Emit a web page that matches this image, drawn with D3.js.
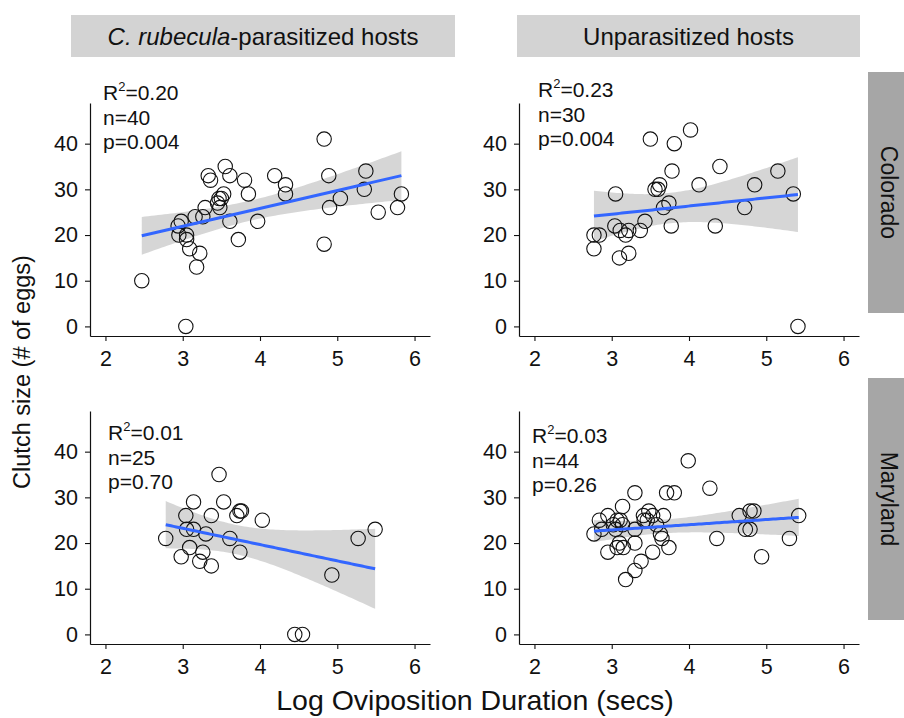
<!DOCTYPE html>
<html><head><meta charset="utf-8">
<script src="https://cdn.jsdelivr.net/npm/d3@7"></script>
<style>
body{margin:0;background:#fff}
text{font-family:"Liberation Sans",Arial,Helvetica,sans-serif;fill:#111}
</style>
</head><body>
<svg id="chart" width="904" height="718"></svg>
<script>
// ---------------- data ----------------
const colLabels = ["C. rubecula-parasitized hosts", "Unparasitized hosts"];
const rowLabels = ["Colorado", "Maryland"];
const xTicks = [2, 3, 4, 5, 6];
const yTicks = [0, 10, 20, 30, 40];

// Colorado, parasitized
const coParaX = [4.83,3.55,3.33,3.36,3.61,3.80,4.19,4.33,4.33,4.89,5.37,5.35,3.85,3.45,3.50,3.53,3.47,3.48,3.29,3.16,3.26,2.98,2.94,3.61,3.97,5.04,4.90,5.53,5.78,5.83,2.95,3.05,3.05,3.09,3.22,3.18,3.72,4.83,2.47,3.04];
const coParaY = [41,35,33,32,33,32,33,31,29,33,34,30,29,27,28,29,28,26,26,24,24,23,22,23,23,28,26,25,26,29,20,20,19,17,16,13,19,18,10,0];
// Colorado, unparasitized
const coUnpX = [4.02,3.50,3.81,3.78,4.40,5.15,4.85,4.13,3.56,3.62,3.05,5.35,3.74,3.67,4.72,3.43,3.04,3.77,4.34,3.11,3.22,3.37,3.18,2.77,2.84,2.77,3.22,3.10,5.41,3.60];
const coUnpY = [43,41,40,34,35,34,31,31,30,31,29,29,27,26,26,23,22,22,22,21,21,21,20,20,20,17,16,15,0,30];
// Maryland, parasitized
const mdParaX = [3.47,3.14,3.53,3.04,3.37,3.70,3.74,3.76,4.03,3.05,3.14,3.30,2.78,3.61,3.09,3.26,3.74,2.98,3.22,3.37,5.27,5.49,4.93,4.45,4.55];
const mdParaY = [35,29,29,26,26,26,27,27,25,23,23,22,21,21,19,18,18,17,16,15,21,23,13,0,0];
// Maryland, unparasitized
const mdUnpX = [3.99,4.27,3.30,3.71,3.81,3.14,2.84,2.95,3.07,3.11,3.05,2.87,2.77,3.41,3.46,3.53,3.67,3.30,3.58,3.63,3.65,3.30,3.74,3.53,2.95,3.07,3.15,3.10,3.38,3.30,3.18,4.36,4.65,4.79,4.84,4.73,4.79,5.30,5.42,4.94,3.14,3.42,3.02,3.48];
const mdUnpY = [38,32,31,31,31,28,25,26,25,25,23,23,22,26,25,26,26,23,24,22,21,20,19,18,18,19,19,20,16,14,12,21,26,27,27,23,23,21,26,17,24,25,24,27];

const r2Labels = ["0.20", "0.23", "0.01", "0.03"];
const nLabels  = ["40", "30", "25", "44"];
const pLabels  = ["0.004", "0.004", "0.70", "0.26"];

// ---------------- layout ----------------
const panelsData = [
  {row:0, col:0, xs:coParaX, ys:coParaY},
  {row:0, col:1, xs:coUnpX,  ys:coUnpY},
  {row:1, col:0, xs:mdParaX, ys:mdParaY},
  {row:1, col:1, xs:mdUnpX,  ys:mdUnpY}
];
const colX = [90, 519], panelW = 340;
const rowY = [103, 411], panelH = 233;
const annPos = [{x:103,y:100},{x:538,y:97},{x:108,y:440},{x:532,y:443}];
const lineGap = 24.5;

const svg = d3.select("#chart");
svg.append("rect").attr("width",904).attr("height",718).attr("fill","#fff");

function tq(df){
  const z = 1.959964;
  const g1 = (z**3 + z)/4;
  const g2 = (5*z**5 + 16*z**3 + 3*z)/96;
  const g3 = (3*z**7 + 19*z**5 + 17*z**3 - 15*z)/384;
  return z + g1/df + g2/df**2 + g3/df**3;
}
function lmFit(xs, ys){
  const n = xs.length;
  const xb = d3.mean(xs), yb = d3.mean(ys);
  let sxx=0, sxy=0;
  for(let i=0;i<n;i++){ sxx += (xs[i]-xb)**2; sxy += (xs[i]-xb)*(ys[i]-yb); }
  const b = sxy/sxx, a = yb - b*xb;
  let sse=0;
  for(let i=0;i<n;i++){ sse += (ys[i]-a-b*xs[i])**2; }
  const s = Math.sqrt(sse/(n-2));
  const t = tq(n-2);
  const [lo, hi] = d3.extent(xs);
  return d3.range(0, 81).map(k=>{
    const x = lo + (hi-lo)*k/80;
    const yh = a + b*x;
    const se = s*Math.sqrt(1/n + (x-xb)**2/sxx);
    return {x, y:yh, lo:yh - t*se, hi:yh + t*se};
  });
}

panelsData.forEach((p, i)=>{
  const x0 = colX[p.col], y0 = rowY[p.row];
  const x = d3.scaleLinear().domain([1.8, 6.2]).range([x0, x0+panelW]);
  const y = d3.scaleLinear().domain([-2.1, 48.9]).range([y0+panelH, y0]);
  const g = svg.append("g");

  const ax = g.append("g").attr("transform",`translate(0,${y0+panelH})`)
    .call(d3.axisBottom(x).tickValues(xTicks).tickFormat(d3.format("d")).tickSize(5).tickPadding(10).tickSizeOuter(0));
  const ay = g.append("g").attr("transform",`translate(${x0},0)`)
    .call(d3.axisLeft(y).tickValues(yTicks).tickFormat(d3.format("d")).tickSize(5).tickPadding(7).tickSizeOuter(0));
  [ax, ay].forEach(a=>{
    a.select(".domain").attr("stroke","#111").attr("stroke-width",1.2);
    a.selectAll(".tick line").attr("stroke","#111").attr("stroke-width",1.1);
    a.selectAll(".tick text").attr("font-size",21.5).attr("fill","#111")
      .style("font-family",'"Liberation Sans",Arial,sans-serif');
  });

  const fit = lmFit(p.xs, p.ys);
  g.append("path").datum(fit)
    .attr("d", d3.area().x(d=>x(d.x)).y0(d=>y(d.lo)).y1(d=>y(d.hi)))
    .attr("fill","#999999").attr("fill-opacity",0.4);

  g.selectAll("circle.pt").data(d3.zip(p.xs, p.ys)).join("circle")
    .attr("class","pt")
    .attr("cx", d=>x(d[0])).attr("cy", d=>y(d[1])).attr("r",7.2)
    .attr("fill","none").attr("stroke","#111").attr("stroke-width",1.1);

  g.append("path").datum(fit)
    .attr("d", d3.line().x(d=>x(d.x)).y(d=>y(d.y)))
    .attr("fill","none").attr("stroke","#3366FF").attr("stroke-width",3);

  const ap = annPos[i];
  const t1 = g.append("text").attr("x",ap.x).attr("y",ap.y).attr("font-size",21);
  t1.append("tspan").text("R");
  t1.append("tspan").attr("font-size",13).attr("dy",-9).text("2");
  t1.append("tspan").attr("dy",9).text("=" + r2Labels[i]);
  g.append("text").attr("x",ap.x).attr("y",ap.y+lineGap).attr("font-size",21).text("n=" + nLabels[i]);
  g.append("text").attr("x",ap.x).attr("y",ap.y+2*lineGap).attr("font-size",21).text("p=" + pLabels[i]);
});

// column strips
const colStrips = [{x0:71,x1:455},{x0:517,x1:860}];
colStrips.forEach((s,i)=>{
  svg.append("rect").attr("x",s.x0).attr("y",15).attr("width",s.x1-s.x0).attr("height",42).attr("fill","#d3d3d3");
  const t = svg.append("text").attr("x",(s.x0+s.x1)/2).attr("y",45).attr("text-anchor","middle").attr("font-size",24);
  if(i===0){
    const parts = colLabels[0].split("-");
    t.append("tspan").attr("font-style","italic").text(parts[0]);
    t.append("tspan").text("-" + parts.slice(1).join("-"));
  } else {
    t.text(colLabels[i]);
  }
});
// row strips
const rowStrips = [{y0:72,y1:313},{y0:378,y1:620}];
rowStrips.forEach((s,i)=>{
  svg.append("rect").attr("x",868).attr("y",s.y0).attr("width",40).attr("height",s.y1-s.y0).attr("fill","#a6a6a6");
  svg.append("text").attr("transform",`translate(881,${(s.y0+s.y1)/2}) rotate(90)`)
    .attr("text-anchor","middle").attr("font-size",23).text(rowLabels[i]);
});

// axis titles
svg.append("text").attr("x",475).attr("y",710).attr("text-anchor","middle").attr("font-size",28.5)
  .text("Log Oviposition Duration (secs)");
svg.append("text").attr("transform","translate(30,372) rotate(-90)").attr("text-anchor","middle").attr("font-size",23.5)
  .text("Clutch size (# of eggs)");
</script>
</body></html>
